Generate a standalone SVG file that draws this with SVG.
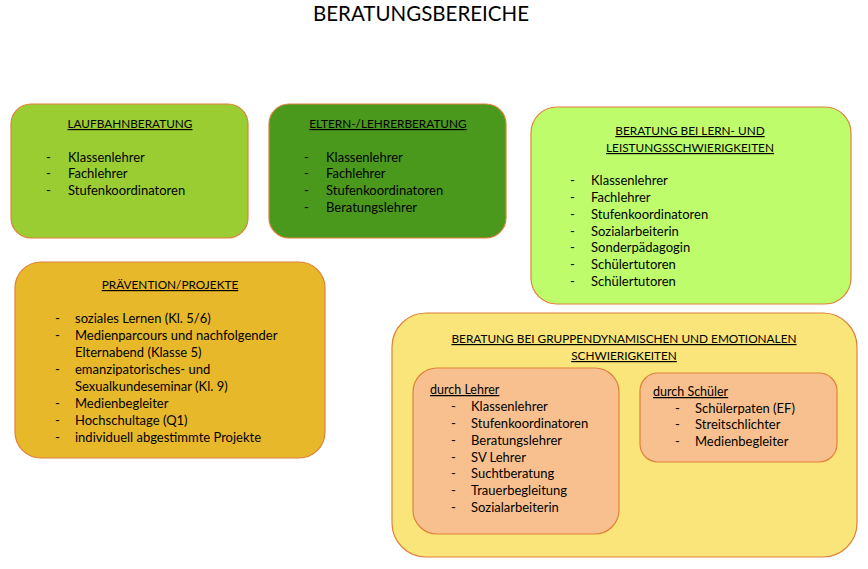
<svg xmlns="http://www.w3.org/2000/svg" width="868" height="569" viewBox="0 0 868 569">
<style>
text{font-family:Lato,"Open Sans","Liberation Sans",sans-serif;fill:#000;}
.t{font-size:13px;}
.h{font-size:11.8px;text-decoration:underline;text-anchor:middle;}
.s{font-size:12.5px;text-decoration:underline;}
.box{stroke:#E0803A;stroke-width:1.2;}
</style>
<rect width="868" height="569" fill="#fff"/>
<text x="421" y="20.5" font-size="20.5" text-anchor="middle">BERATUNGSBEREICHE</text>
<g id="laufbahn">
<rect class="box" x="11" y="104" width="237" height="134" rx="20" fill="#9ACD32"/>
<text class="h" x="130" y="128">LAUFBAHNBERATUNG</text>
<g class="t"><text x="46" y="162">-</text><text x="68" y="162">Klassenlehrer</text>
<text x="46" y="178">-</text><text x="68" y="178">Fachlehrer</text>
<text x="46" y="195">-</text><text x="68" y="195">Stufenkoordinatoren</text></g>
</g>
<g id="eltern">
<rect class="box" x="269" y="104" width="237" height="134" rx="20" fill="#4A991C"/>
<text class="h" x="388" y="128">ELTERN-/LEHRERBERATUNG</text>
<g class="t"><text x="304" y="162">-</text><text x="326" y="162">Klassenlehrer</text>
<text x="304" y="178">-</text><text x="326" y="178">Fachlehrer</text>
<text x="304" y="195">-</text><text x="326" y="195">Stufenkoordinatoren</text>
<text x="304" y="212">-</text><text x="326" y="212">Beratungslehrer</text></g>
</g>
<g id="lern">
<rect class="box" x="531" y="107" width="320" height="197" rx="26" fill="#BFFC6C"/>
<text class="h" x="690" y="135">BERATUNG BEI LERN- UND</text>
<text class="h" x="690" y="152">LEISTUNGSSCHWIERIGKEITEN</text>
<g class="t"><text x="570" y="185">-</text><text x="591" y="185">Klassenlehrer</text>
<text x="570" y="202">-</text><text x="591" y="202">Fachlehrer</text>
<text x="570" y="219">-</text><text x="591" y="219">Stufenkoordinatoren</text>
<text x="570" y="236">-</text><text x="591" y="236">Sozialarbeiterin</text>
<text x="570" y="252">-</text><text x="591" y="252">Sonderpädagogin</text>
<text x="570" y="269">-</text><text x="591" y="269">Schülertutoren</text>
<text x="570" y="286">-</text><text x="591" y="286">Schülertutoren</text></g>
</g>
<g id="praevention">
<rect class="box" x="15" y="262" width="310" height="196" rx="26" fill="#E7B82A"/>
<text class="h" x="170" y="289">PRÄVENTION/PROJEKTE</text>
<g class="t"><text x="55" y="323">-</text><text x="75" y="323">soziales Lernen (Kl. 5/6)</text>
<text x="55" y="340">-</text><text x="75" y="340">Medienparcours und nachfolgender</text>
<text x="75" y="357">Elternabend (Klasse 5)</text>
<text x="55" y="374">-</text><text x="75" y="374">emanzipatorisches- und</text>
<text x="75" y="391">Sexualkundeseminar (Kl. 9)</text>
<text x="55" y="408">-</text><text x="75" y="408">Medienbegleiter</text>
<text x="55" y="425">-</text><text x="75" y="425">Hochschultage (Q1)</text>
<text x="55" y="442">-</text><text x="75" y="442">individuell abgestimmte Projekte</text></g>
</g>
<g id="gruppen">
<rect class="box" x="392" y="313" width="465" height="244" rx="34" fill="#F9E57A"/>
<text class="h" x="624" y="343">BERATUNG BEI GRUPPENDYNAMISCHEN UND EMOTIONALEN</text>
<text class="h" x="624" y="360">SCHWIERIGKEITEN</text>
</g>
<g id="lehrer">
<rect class="box" x="413" y="368" width="206" height="166" rx="24" fill="#F8C08E"/>
<text class="s" x="430" y="394">durch Lehrer</text>
<g class="t"><text x="451" y="411">-</text><text x="471" y="411">Klassenlehrer</text>
<text x="451" y="428">-</text><text x="471" y="428">Stufenkoordinatoren</text>
<text x="451" y="445">-</text><text x="471" y="445">Beratungslehrer</text>
<text x="451" y="462">-</text><text x="471" y="462">SV Lehrer</text>
<text x="451" y="478">-</text><text x="471" y="478">Suchtberatung</text>
<text x="451" y="495">-</text><text x="471" y="495">Trauerbegleitung</text>
<text x="451" y="512">-</text><text x="471" y="512">Sozialarbeiterin</text></g>
</g>
<g id="schueler">
<rect class="box" x="640" y="373" width="197" height="89" rx="18" fill="#F8C08E"/>
<text class="s" x="653" y="396">durch Schüler</text>
<g class="t"><text x="675" y="413">-</text><text x="695" y="413">Schülerpaten (EF)</text>
<text x="675" y="429">-</text><text x="695" y="429">Streitschlichter</text>
<text x="675" y="446">-</text><text x="695" y="446">Medienbegleiter</text></g>
</g>
<g id="connectors"></g>
</svg>
